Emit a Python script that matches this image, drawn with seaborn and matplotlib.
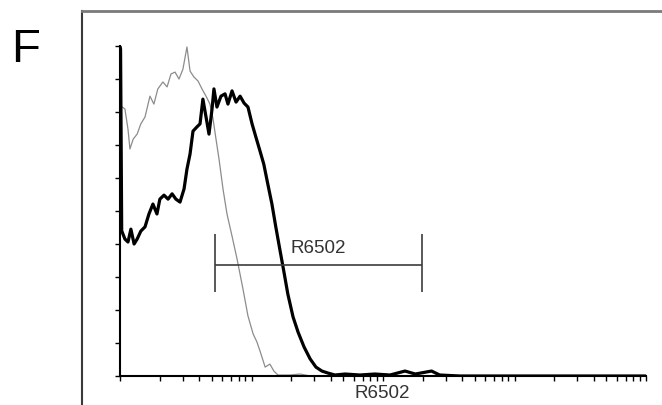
import numpy as np
import pandas as pd
import matplotlib
matplotlib.use("Agg")
import matplotlib.pyplot as plt
import seaborn as sns
from matplotlib.ticker import LogLocator, NullFormatter, MultipleLocator

# fluorescence channel (log scale) and counts (% of max)
control_x = [1.0, 1.09, 1.15, 1.19, 1.26, 1.35, 1.44, 1.55, 1.69, 1.81, 1.94, 2.12, 2.28, 2.44,
             2.62, 2.81, 3.01, 3.23, 3.41, 3.65, 3.92, 4.20, 4.51, 4.83, 5.10, 5.37, 5.66, 6.07,
             6.51, 7.11, 7.76, 8.61, 9.40, 10.3, 11.0, 11.8, 12.7, 13.8, 14.8, 15.9, 19.6, 23.4,
             27.9, 10000]
control_y = [82, 80.9, 74.8, 68.8, 71.8, 73.3, 76.4, 78.5, 84.8, 82.4, 87.0, 89.1, 87.6, 91.5,
             92.1, 90.0, 93.0, 99.7, 92.4, 90.6, 89.4, 87.0, 84.8, 82.4, 77.9, 71.8, 65.8, 56.7,
             49.1, 42.4, 35.5, 26.4, 18.2, 12.7, 10.3, 6.7, 2.7, 3.6, 1.5, 0.3, 0.3, 0.6,
             0, 0]

stained_x = [1.0, 1.01, 1.03, 1.09, 1.15, 1.21, 1.28, 1.35, 1.44, 1.55, 1.66, 1.78, 1.91, 2.01, 2.16,
             2.32, 2.49, 2.66, 2.86, 3.07, 3.23, 3.41, 3.59, 3.85, 4.06, 4.27, 4.51, 4.75, 5.01,
             5.18, 5.46, 5.86, 6.29, 6.62, 7.11, 7.63, 8.19, 8.78, 9.40, 10.1, 10.8, 11.6, 12.4,
             13.3, 14.3, 15.3, 16.4, 17.6, 18.9, 20.7, 22.6, 25.1, 27.9, 30.9, 34.3, 38.1, 43.1,
             51.5, 66.7, 86.7, 113, 147, 176, 234, 270, 384, 10000]
stained_y = [100, 99, 44, 41.5, 40.6, 44.5, 40.0, 41.5, 43.9, 45.2, 49.1, 52.1, 49.1, 53.6, 54.8,
             53.6, 55.2, 53.6, 52.7, 56.7, 62.7, 67.3, 74.2, 75.5, 76.4, 83.9, 78.5, 73.3, 80.9,
             87.0, 81.5, 84.8, 85.5, 82.4, 86.4, 83.0, 84.8, 82.7, 81.5, 76.4, 72.4, 68.2, 64.2,
             58.2, 52.1, 45.2, 38.5, 31.8, 24.8, 17.9, 13.3, 8.8, 5.2, 2.7, 1.5, 0.9, 0.3,
             0.6, 0.3, 0.6, 0.3, 1.5, 0.6, 1.5, 0.3, 0, 0]

gate_name = "R6502"
gate_lo, gate_hi = 5.28, 198
gate_y, gate_bottom, gate_top = 33.6, 25.5, 43.0

sns.set_style("white")
plt.rcParams['font.family'] = ['Liberation Sans', 'DejaVu Sans']

fig = plt.figure(figsize=(6.62, 4.06), dpi=100)

# outer panel frame
frame = fig.add_axes([82 / 662, 0, 1 - 82 / 662, (406 - 12) / 406])
frame.set_xticks([])
frame.set_yticks([])
frame.patch.set_alpha(0)
for s in ['right', 'bottom']:
    frame.spines[s].set_visible(False)
frame.spines['top'].set_color('#7a7a7a')
frame.spines['top'].set_linewidth(2)
frame.spines['left'].set_color('#3a3a3a')
frame.spines['left'].set_linewidth(1.5)

fig.text(26 / 662, 1 - 50 / 406, "F", fontsize=34, ha='center', va='center', color='black')

ax = fig.add_axes([120 / 662, (406 - 377) / 406, (646 - 120) / 662, (377 - 47) / 406])
ax.patch.set_alpha(0)

ctrl = pd.DataFrame({'x': control_x, 'y': control_y})
stain = pd.DataFrame({'x': stained_x, 'y': stained_y})
sns.lineplot(data=ctrl, x='x', y='y', ax=ax, color='#8c8c8c', lw=0.9,
             estimator=None, sort=False)
sns.lineplot(data=stain, x='x', y='y', ax=ax, color='black', lw=2.3,
             estimator=None, sort=False)

# gate marker
ax.hlines(gate_y, gate_lo, gate_hi, color='#3c3c3c', lw=1.2)
ax.vlines([gate_lo, gate_hi], gate_bottom, gate_top, color='#3c3c3c', lw=1.2)
ax.text(32, 39, gate_name, fontsize=13.5, ha='center', va='center', color='#333333')
ax.text(98, -0.05, gate_name, fontsize=13.5, ha='center', va='center',
        color='#333333', transform=ax.get_xaxis_transform())

ax.set_xscale('log')
ax.set_xlim(1, 10000)
ax.set_ylim(0, 100)
ax.xaxis.set_major_locator(LogLocator(base=10, numticks=10))
ax.xaxis.set_minor_locator(LogLocator(base=10, subs=np.arange(2, 10), numticks=50))
ax.xaxis.set_major_formatter(NullFormatter())
ax.xaxis.set_minor_formatter(NullFormatter())
ax.yaxis.set_major_locator(MultipleLocator(10))
ax.set_yticklabels([])
ax.set_xlabel('')
ax.set_ylabel('')
ax.tick_params(axis='both', which='both', direction='out', length=3.5, width=1,
               color='black', bottom=True, left=True)
for s in ['top', 'right']:
    ax.spines[s].set_visible(False)
for s in ['left', 'bottom']:
    ax.spines[s].set_color('black')
    ax.spines[s].set_linewidth(1.5)

fig.savefig('out.png', dpi=100)
